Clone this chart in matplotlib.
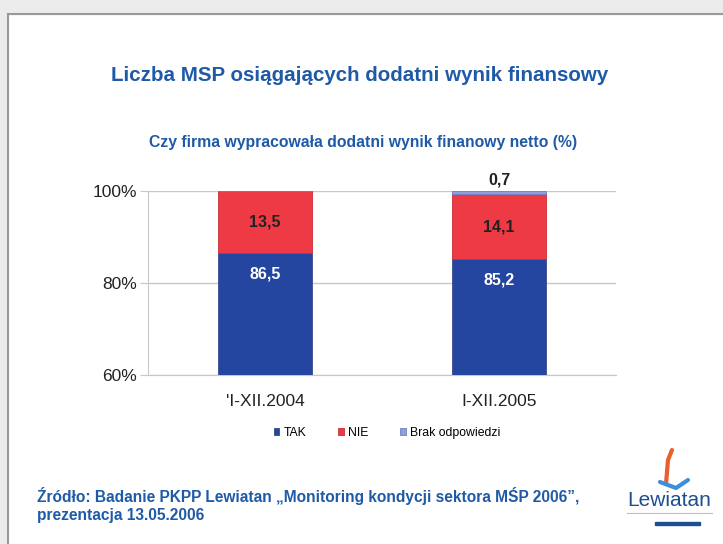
import matplotlib
matplotlib.use("Agg")
import matplotlib.pyplot as plt
import numpy as np
from matplotlib.patches import Rectangle

categories = ["'I-XII.2004", "I-XII.2005"]
tak = [86.5, 85.2]
nie = [13.5, 14.1]
brak = [0.0, 0.7]
series_names = ["TAK", "NIE", "Brak odpowiedzi"]
yticks = [60, 80, 100]
ytick_labels = ["60%", "80%", "100%"]

title = "Liczba MSP osiągających dodatni wynik finansowy"
subtitle = "Czy firma wypracowała dodatni wynik finanowy netto (%)"
source = "Źródło: Badanie PKPP Lewiatan „Monitoring kondycji sektora MŚP 2006”,\nprezentacja 13.05.2006"

def fmt(v):
    return f"{v:.1f}".replace(".", ",")

W, H = 723, 544
fig = plt.figure(figsize=(W / 100, H / 100), dpi=100)
fig.patch.set_facecolor("white")
plt.rcParams['font.family'] = ['Liberation Sans', 'DejaVu Sans']

# slide frame
bg = fig.add_axes([0, 0, 1, 1])
bg.set_xlim(0, W); bg.set_ylim(H, 0); bg.axis("off")
bg.add_patch(Rectangle((0, 0), W, 14, color="#ececec", zorder=0))
bg.add_patch(Rectangle((0, 0), 8, H, color="#ececec", zorder=0))
bg.plot([8, W], [14, 14], color="#9a9a9a", lw=1.5)
bg.plot([8, 8], [14, H], color="#9a9a9a", lw=1.5)

blue_txt = "#1f5aa6"
fig.text(360 / W, 1 - 75 / H, title, ha="center", va="center", fontsize=14.8,
         fontweight="bold", color=blue_txt)
fig.text(363 / W, 1 - 142 / H, subtitle, ha="center", va="center", fontsize=11.3,
         fontweight="bold", color=blue_txt)
fig.text(37 / W, 1 - 505 / H, source, ha="left", va="center", fontsize=11.2,
         fontweight="bold", color=blue_txt, linespacing=1.25)

# logo
fig.text(669 / W, 1 - 500 / H, "Lewiatan", ha="center", va="center", fontsize=15,
         color="#1f4f8f")
bg.plot([627, 712], [513, 513], color="#c0c0c0", lw=0.8)
bg.add_patch(Rectangle((655, 522), 45, 3, color="#1f4f8f"))
bg.plot([666, 668, 672], [484, 460, 450], color="#e8602c", lw=3, solid_capstyle="round")
bg.plot([660, 676, 688], [482, 488, 480], color="#3c8fd8", lw=3, solid_capstyle="round")

# chart
left, right, top, bottom = 148, 616, 191, 375
ax = fig.add_axes([left / W, 1 - bottom / H, (right - left) / W, (bottom - top) / H])
x = np.arange(len(categories))
bw = 0.4
c_tak, c_nie, c_brak = "#2546a0", "#ee3a45", "#8e9fdc"
ax.bar(x, tak, bw, color=c_tak, edgecolor="#3a4a8a", lw=0.6, zorder=3, label=series_names[0])
ax.bar(x, nie, bw, bottom=tak, color=c_nie, edgecolor="#c83030", lw=0.6, zorder=3, label=series_names[1])
ax.bar(x, brak, bw, bottom=np.array(tak) + np.array(nie), color=c_brak, edgecolor="#7080c0",
       lw=0.6, zorder=3, label=series_names[2])

ax.set_xlim(-0.5, 1.5)
ax.set_ylim(60, 100)
ax.set_yticks(yticks)
ax.set_yticklabels(ytick_labels, fontsize=12.5, color="#222222")
ax.set_xticks(x)
ax.set_xticklabels(categories, fontsize=12.5, color="#222222")
ax.tick_params(axis="y", length=6, color="#c8c8c8", pad=2)
ax.tick_params(axis="x", length=0, pad=14)
ax.grid(axis="y", color="#c8c8c8", lw=1, zorder=0)
for s in ["top", "right"]:
    ax.spines[s].set_visible(False)
ax.spines["left"].set_color("#c8c8c8")
ax.spines["bottom"].set_color("#c8c8c8")

for i in range(len(categories)):
    ax.text(x[i], tak[i] - 4.6, fmt(tak[i]), ha="center", va="center", color="white",
            fontsize=11.5, fontweight="bold", zorder=5)
    ax.text(x[i], tak[i] + nie[i] / 2, fmt(nie[i]), ha="center", va="center", color="#222222",
            fontsize=11.5, fontweight="bold", zorder=5)
    if brak[i] > 0:
        ax.text(x[i], 100 + 2.3, fmt(brak[i]), ha="center", va="center", color="#222222",
                fontsize=11.5, fontweight="bold", zorder=5, clip_on=False)

leg = fig.legend(handles=ax.containers, labels=series_names, loc="center",
                 bbox_to_anchor=(387 / W, 1 - 433 / H), ncol=3, frameon=False,
                 fontsize=8.8, handlelength=0.45, handleheight=0.45, columnspacing=2.6,
                 handletextpad=0.35)

fig.savefig("out.png", dpi=100, facecolor=fig.get_facecolor())
